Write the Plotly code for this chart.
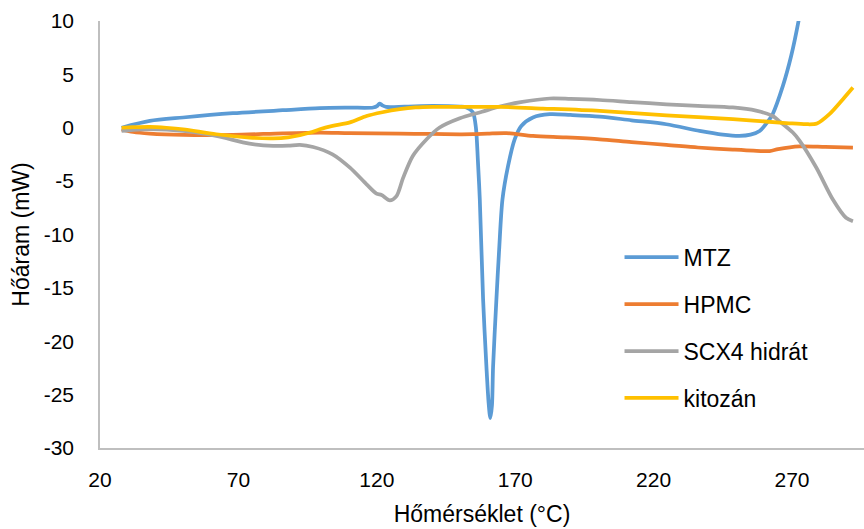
import plotly.graph_objects as go

# ---- data ----
mtz_T = [27.8, 38, 50, 68, 86, 99.4, 110, 118.7, 120.2, 121, 122, 123.4, 130, 140.3, 150,
         152.4, 154.7, 155.8, 156.5, 157.2, 158.4, 159.6, 160.4, 161, 161.6, 162, 163.2,
         164.2, 165.4, 167.4, 169.8, 172.2, 176.4, 182.5, 190, 200.5, 212, 224.6, 236.6,
         245, 251, 255, 258.3, 261.9, 263, 266.7, 269.7, 272.5, 274]
mtz_v = [0.0, 0.64, 0.96, 1.36, 1.64, 1.83, 1.88, 1.9, 2.05, 2.27, 2.1, 1.96, 1.98, 2.05, 1.98,
         1.9, 1.45, 0.0, -3.0, -6.7, -16.1, -22.4, -25.8, -27.2, -26.0, -22.4, -16.1,
         -11.4, -6.7, -3.6, -1.08, 0.17, 0.96, 1.27, 1.2, 1.05, 0.7, 0.33, -0.3,
         -0.65, -0.77, -0.65, -0.3, 0.8, 1.27, 3.92, 6.74, 10.2, 12.5]

hpmc_T = [27.8, 32, 38, 50, 68, 86, 99.4, 110, 128.3, 140, 150, 154.7, 160, 166.8, 176.4,
          188, 200.5, 212, 224.6, 236, 248.6, 256, 261.9, 265, 272.7, 282, 292]
hpmc_v = [-0.15, -0.4, -0.55, -0.67, -0.67, -0.52, -0.45, -0.5, -0.55, -0.58, -0.61, -0.6,
          -0.55, -0.5, -0.77, -0.9, -1.08, -1.35, -1.6, -1.85, -2.05, -2.15, -2.18, -2.0,
          -1.75, -1.8, -1.86]

scx_T = [27.8, 32, 38, 50, 62, 74, 82.5, 88, 92.2, 97, 104, 110.3, 116.3, 119.9, 121.7,
         124.7, 127.1, 129.5, 133, 138, 142.7, 150, 158, 164.4, 172, 182.5, 190, 200.5,
         212, 224.6, 236, 248.6, 257, 263, 265.5, 270.3, 272.7, 278.7, 284.7, 289.5, 292]
scx_v = [-0.3, -0.2, -0.14, -0.3, -0.77, -1.49, -1.7, -1.68, -1.6, -1.8, -2.49, -3.74, -5.3,
         -6.18, -6.3, -6.8, -6.4, -4.7, -2.65, -1.08, 0.02, 0.89, 1.5, 1.99, 2.4, 2.74, 2.7,
         2.6, 2.4, 2.2, 2.05, 1.9, 1.6, 1.1, 0.6, -0.45, -1.2, -3.7, -6.7, -8.43, -8.75]

kit_T = [27.8, 32, 38, 44, 50, 62, 74, 82.5, 88, 92.2, 96, 99.4, 104, 110.3, 116.3, 122,
         128.3, 134, 140.3, 150, 164.4, 180, 200.5, 224.6, 248.6, 265.5, 269, 275.1, 279,
         283.5, 288.4, 292]
kit_v = [0.0, 0.05, 0.08, 0.0, -0.14, -0.61, -0.92, -0.99, -0.9, -0.7, -0.45, -0.14, 0.17,
         0.5, 1.1, 1.45, 1.74, 1.9, 1.96, 1.96, 1.95, 1.8, 1.58, 1.17, 0.8, 0.49, 0.42, 0.33,
         0.4, 1.27, 2.68, 3.77]

series = [
    ("MTZ", mtz_T, mtz_v, "#5B9BD5"),
    ("HPMC", hpmc_T, hpmc_v, "#ED7D31"),
    ("SCX4 hidrát", scx_T, scx_v, "#A5A5A5"),
    ("kitozán", kit_T, kit_v, "#FFC000"),
]

x_ticks = [20, 70, 120, 170, 220, 270]
y_ticks = [-30, -25, -20, -15, -10, -5, 0, 5, 10]

FONT = "Liberation Sans, Arial, sans-serif"

fig = go.Figure()
for name, xs, ys, col in series:
    fig.add_trace(go.Scatter(
        x=xs, y=ys, mode="lines", name=name, legendgroup=name,
        line=dict(color=col, width=3.75, shape="spline", smoothing=0.8),
    ))

axis_line = "#BFBFBF"
fig.update_layout(
    width=864, height=529,
    margin=dict(l=100, r=0, t=21, b=81),
    paper_bgcolor="white", plot_bgcolor="white",
    font=dict(family=FONT, color="#000000", size=21),
    showlegend=True,
    legend=dict(
        x=0.68, xanchor="left", y=0.497, yanchor="top",
        font=dict(size=23, family=FONT, color="#000000"),
        tracegroupgap=14, itemwidth=54, bgcolor="rgba(0,0,0,0)",
    ),
    xaxis=dict(
        range=[20, 296], tickvals=x_ticks, ticktext=[str(t) for t in x_ticks],
        showgrid=False, zeroline=False, showline=True, linecolor=axis_line, linewidth=1.5,
        ticks="", ticklabelstandoff=12,
        title=dict(text="Hőmérséklet (°C)", font=dict(size=23), standoff=16),
    ),
    yaxis=dict(
        range=[-30, 10], tickvals=y_ticks, ticktext=[str(t) for t in y_ticks],
        showgrid=False, zeroline=False, showline=True, linecolor=axis_line, linewidth=1.5,
        ticks="", ticklabelstandoff=20,
        title=dict(text="Hőáram (mW)", font=dict(size=23), standoff=8),
    ),
)

fig.write_html("out.html")
